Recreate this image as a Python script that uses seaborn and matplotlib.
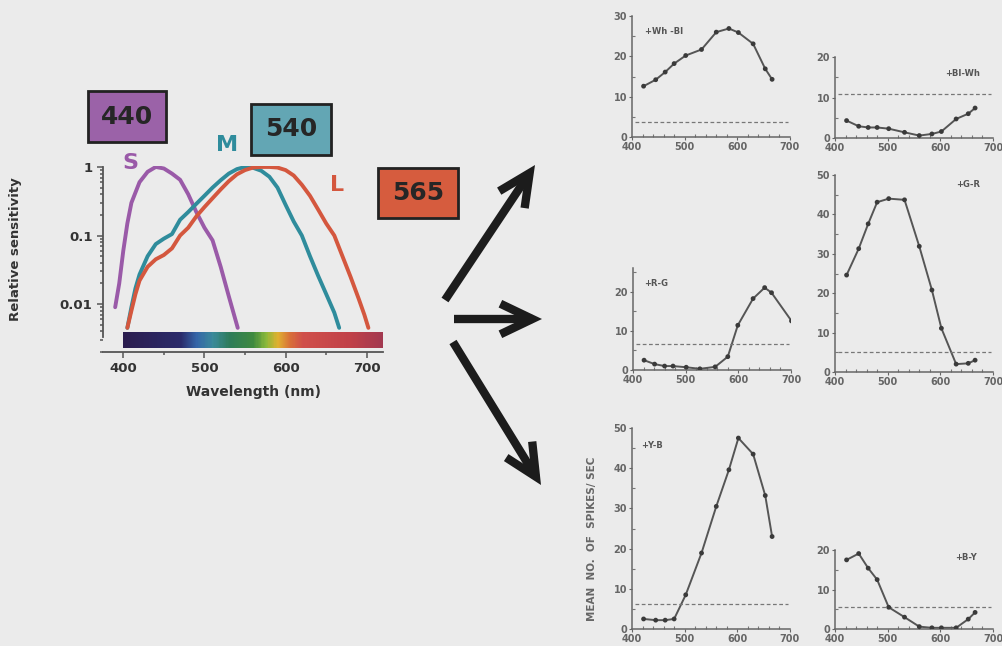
import numpy as np
import seaborn as sns
import matplotlib.pyplot as plt
from matplotlib.colors import LinearSegmentedColormap
from matplotlib.patches import Rectangle, FancyArrowPatch

sns.set_theme(style='ticks')
plt.rcParams['font.family'] = ['DejaVu Sans']

W, H = 1002, 646
BG = '#ebebeb'

# --- cone sensitivities (relative, log scale) ---------------------
s_wl = [390, 395, 400, 405, 410, 420, 430, 440, 450, 460, 470, 480, 490, 500, 510, 520, 530, 541]
s_val = [0.009, 0.02, 0.06, 0.15, 0.3, 0.6, 0.85, 1.0, 0.95, 0.8, 0.65, 0.4, 0.22, 0.13,
         0.085, 0.035, 0.013, 0.0045]
m_wl = [405, 410, 415, 420, 430, 440, 450, 460, 470, 480, 490, 500, 510, 520, 530, 540, 550,
        560, 570, 580, 590, 600, 610, 620, 630, 640, 650, 660, 666]
m_val = [0.0045, 0.009, 0.017, 0.027, 0.05, 0.075, 0.09, 0.105, 0.17, 0.22, 0.29, 0.38, 0.5,
         0.64, 0.8, 0.93, 1.0, 0.97, 0.88, 0.72, 0.5, 0.28, 0.16, 0.1, 0.05, 0.026, 0.014,
         0.0075, 0.0045]
l_wl = [405, 410, 415, 420, 430, 440, 450, 460, 470, 480, 490, 500, 510, 520, 530, 540, 550,
        560, 570, 580, 590, 600, 610, 620, 630, 640, 650, 660, 670, 680, 690, 697, 702]
l_val = [0.0045, 0.008, 0.014, 0.022, 0.035, 0.045, 0.052, 0.065, 0.1, 0.13, 0.19, 0.26, 0.35,
         0.47, 0.62, 0.78, 0.9, 0.98, 1.0, 1.0, 0.98, 0.9, 0.75, 0.55, 0.38, 0.24, 0.15, 0.1,
         0.05, 0.025, 0.012, 0.007, 0.0045]
cone_names = ['S', 'M', 'L']
cone_colors = ['#9a5aa8', '#2f8c9c', '#d4573e']
peak_labels = ['440', '540', '565']
box_colors = ['#9b62a8', '#63a6b4', '#d65c3e']

spec_wl = [400, 470, 490, 510, 530, 560, 575, 590, 605, 620, 680, 722]
spec_col = ['#2b1d4f', '#2a2a6a', '#3566a8', '#3a8a9a', '#2d7c5a', '#3f8a3f', '#8ab83a',
            '#e0b030', '#d87038', '#d0504a', '#c04048', '#a03850']

# --- opponent cell responses (mean spikes/sec) ---------------------
cell_wl = [422, 445, 463, 480, 502, 532, 560, 584, 602, 630, 653, 666]
rg_wl = [421, 441, 460, 476, 501, 527, 556, 580, 599, 628, 650, 663, 701]
wh_bl = [12.6, 14.2, 16.1, 18.2, 20.2, 21.7, 26.0, 26.9, 25.9, 23.1, 16.9, 14.3]
bl_wh = [4.3, 2.9, 2.6, 2.6, 2.3, 1.4, 0.6, 1.0, 1.6, 4.7, 6.0, 7.4]
r_g = [2.5, 1.5, 1.0, 1.0, 0.7, 0.3, 0.8, 3.4, 11.4, 18.2, 21.0, 19.7, 12.5]
g_r = [24.6, 31.3, 37.6, 43.1, 44.0, 43.7, 31.9, 20.8, 11.1, 2.0, 2.2, 3.0]
y_b = [2.5, 2.2, 2.2, 2.5, 8.5, 18.9, 30.5, 39.6, 47.5, 43.5, 33.2, 23.0]
b_y = [17.5, 19.1, 15.4, 12.5, 5.5, 3.0, 0.6, 0.3, 0.3, 0.3, 2.5, 4.2]
cell_names = ['+Wh -Bl', '+Bl-Wh', '+R-G', '+G-R', '+Y-B', '+B-Y']
baselines = [3.7, 10.9, 6.6, 5.1, 6.2, 5.5]
y_tops = [30, 20, 26, 50, 50, 20]

fig = plt.figure(figsize=(W / 100, H / 100), dpi=100, facecolor=BG)


def px_axes(l, t, r, b):
    a = fig.add_axes([l / W, 1 - b / H, (r - l) / W, (b - t) / H])
    a.set_facecolor('none')
    return a


# ---------------- left: cone fundamentals ----------------
ax = px_axes(103, 165.5, 383, 352)
ax.set_yscale('log')
ax.set_xlim(375, 720)
ax.set_ylim(0.002, 1.05)

pos = [(w - spec_wl[0]) / (spec_wl[-1] - spec_wl[0]) for w in spec_wl]
cmap = LinearSegmentedColormap.from_list('spec', list(zip(pos, spec_col)))
xs = np.linspace(spec_wl[0], spec_wl[-1], 300)
ax.pcolormesh(xs, [0.0023, 0.0039], xs[:-1][None, :], cmap=cmap,
              vmin=spec_wl[0], vmax=spec_wl[-1], shading='flat', zorder=1)

for wl, val, c in zip([s_wl, m_wl, l_wl], [s_val, m_val, l_val], cone_colors):
    sns.lineplot(x=wl, y=val, ax=ax, color=c, lw=2.8, sort=False, zorder=3)

sns.despine(ax=ax)
ax.spines['left'].set_bounds(0.0033, 1.0)
for sp in ['left', 'bottom']:
    ax.spines[sp].set_color('#555')
    ax.spines[sp].set_linewidth(1.3)
ax.set_xticks([400, 500, 600, 700])
ax.set_xticks([450, 550, 650], minor=True)
ax.set_yticks([1, 0.1, 0.01])
ax.set_yticklabels(['1', '0.1', '0.01'])
ax.tick_params(which='both', colors='#555', width=1.1)
ax.tick_params(which='major', length=4, labelsize=9.5, labelcolor='#333')
ax.tick_params(which='minor', length=2.5)
for t in ax.get_xticklabels() + ax.get_yticklabels():
    t.set_fontweight('bold')
ax.set_xlabel('')
ax.set_ylabel('')

fig.text(16 / W, 1 - 249 / H, 'Relative sensitivity', rotation=90, ha='center', va='center',
         fontsize=9.5, fontweight='bold', color='#333')
fig.text(253 / W, 1 - 392 / H, 'Wavelength (nm)', ha='center', va='center',
         fontsize=10, fontweight='bold', color='#333')

for name, c, (x, y) in zip(cone_names, cone_colors, [(130, 163), (227, 145), (337, 185)]):
    fig.text(x / W, 1 - y / H, name, ha='center', va='center', fontsize=16,
             fontweight='bold', color=c)

for lab, c, (l, t, r, b) in zip(peak_labels, box_colors,
                                [(88, 91, 166, 142), (251, 104, 331, 155), (378, 168, 458, 218)]):
    fig.add_artist(Rectangle((l / W, 1 - b / H), (r - l) / W, (b - t) / H,
                             transform=fig.transFigure, fc=c, ec='#222', lw=2))
    fig.text((l + r) / 2 / W, 1 - (t + b) / 2 / H, lab, ha='center', va='center',
             fontsize=18, fontweight='bold', color='#262626')

# ---------------- arrows ----------------
for (x0, y0), (x1, y1) in [((445, 300), (535, 165)), ((454, 319), (542, 319)),
                           ((453, 342), (541, 485))]:
    fig.add_artist(FancyArrowPatch((x0 / W, 1 - y0 / H), (x1 / W, 1 - y1 / H),
                                   transform=fig.transFigure,
                                   arrowstyle='->,head_length=1.15,head_width=0.55',
                                   mutation_scale=20, lw=6, color='#1c1c1c',
                                   shrinkA=0, shrinkB=0, joinstyle='miter', capstyle='butt'))

# ---------------- right: opponent cells ----------------
panel_px = [(632, 16, 790, 137), (835, 57, 993, 138), (633, 268, 791, 370),
            (835, 175, 993, 372), (632, 428, 790, 629), (835, 550, 993, 629)]
panel_x = [cell_wl, cell_wl, rg_wl, cell_wl, cell_wl, cell_wl]
panel_y = [wh_bl, bl_wh, r_g, g_r, y_b, b_y]
label_pos = [(0.08, 0.87, 'left'), (0.92, 0.80, 'right'), (0.07, 0.85, 'left'),
             (0.92, 0.95, 'right'), (0.06, 0.915, 'left'), (0.90, 0.91, 'right')]

for px, xv, yv, name, base, top, (lx, ly, ha) in zip(panel_px, panel_x, panel_y, cell_names,
                                                     baselines, y_tops, label_pos):
    a = px_axes(*px)
    sns.lineplot(x=xv, y=yv, ax=a, color='#555', lw=1.4, sort=False)
    sns.scatterplot(x=xv, y=yv, ax=a, color='#3a3a3a', s=12, edgecolor='none', zorder=3)
    a.axhline(base, xmin=0.02, xmax=0.99, ls=(0, (3, 2)), color='#777', lw=0.9)
    a.set_xlim(400, 700)
    a.set_ylim(0, top)
    a.set_xticks([400, 500, 600, 700])
    a.set_xticks(np.arange(420, 700, 20), minor=True)
    a.set_yticks(np.arange(0, top + 1, 10))
    a.set_yticks(np.arange(5, top, 10), minor=True)
    sns.despine(ax=a)
    for sp in ['left', 'bottom']:
        a.spines[sp].set_color('#666')
        a.spines[sp].set_linewidth(1.1)
    a.tick_params(which='major', length=2.5, width=0.8, colors='#666', labelsize=7, pad=1)
    a.tick_params(which='minor', length=2, width=0.8, colors='#777', direction='in')
    for t in a.get_xticklabels() + a.get_yticklabels():
        t.set_fontweight('bold')
    a.set_xlabel('')
    a.set_ylabel('')
    a.text(lx, ly, name, transform=a.transAxes, ha=ha, va='center', fontsize=6,
           fontweight='bold', color='#555')

fig.text(592 / W, 1 - 539 / H, 'MEAN  NO.  OF  SPIKES/ SEC', rotation=90, ha='center',
         va='center', fontsize=7.5, fontweight='bold', color='#666')

fig.savefig('out.png', dpi=100, facecolor=BG)
